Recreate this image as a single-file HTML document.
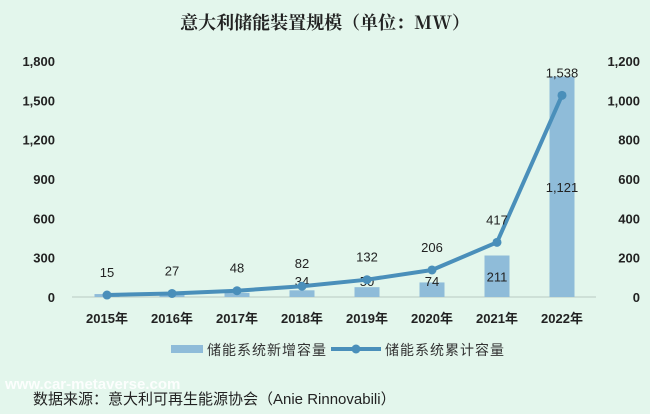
<!DOCTYPE html>
<html><head><meta charset="utf-8"><style>
body{margin:0;background:#e3f6ec;}
svg{display:block;font-family:"Liberation Sans","Noto Sans CJK SC",sans-serif;}
</style></head><body>
<svg width="650" height="414" viewBox="0 0 650 414">
<rect width="650" height="414" fill="#e3f6ec"/>
<text x="325" y="29" text-anchor="middle" font-size="18" font-weight="bold" fill="#222" font-family="'Noto Serif CJK SC','Noto Sans CJK SC',sans-serif">意大利储能装置规模（单位：MW）</text>
<g id="plot"></g>
<g>
<rect x="171" y="345" width="32" height="8" fill="#8fbcd9"/>
<text x="207" y="355" font-size="14" letter-spacing="1" fill="#333">储能系统新增容量</text>
<line x1="331" y1="349" x2="381" y2="349" stroke="#4a8fba" stroke-width="4"/>
<circle cx="356" cy="349" r="4.5" fill="#4a8fba"/>
<text x="385" y="355" font-size="14" letter-spacing="1" fill="#333">储能系统累计容量</text>
</g>
<text x="5" y="389" font-size="15" fill="#ffffff" font-weight="bold" opacity="0.9">www.car-metaverse.com</text>
<text x="33" y="404" font-size="15" fill="#222">数据来源：意大利可再生能源协会（Anie Rinnovabili）</text>
</svg>
<script>
const categories=["2015年","2016年","2017年","2018年","2019年","2020年","2021年","2022年"];
const newCapacity=[15,12,21,34,50,74,211,1121];
const newLabels=["","","","34","50","74","211","1,121"];
const cumCapacity=[15,27,48,82,132,206,417,1538];
const cumLabels=["15","27","48","82","132","206","417","1,538"];
const leftTicks=[0,300,600,900,1200,1500,1800];
const rightTicks=[0,200,400,600,800,1000,1200];
const NS="http://www.w3.org/2000/svg";
const g=document.getElementById('plot');
const y0=297,yTop=61;
const yL=v=>y0-(v/1800)*(y0-yTop);
const yR=v=>y0-(v/1200)*(y0-yTop);
const xC=i=>107+i*65;
const fmt=v=>v.toLocaleString('en-US');
function mk(tag,attrs,txt){const e=document.createElementNS(NS,tag);for(const k in attrs)e.setAttribute(k,attrs[k]);if(txt!==undefined)e.textContent=txt;g.appendChild(e);return e;}
leftTicks.forEach(v=>{const t=mk('text',{x:55,y:yL(v)+5,'text-anchor':'end','font-size':13,'font-weight':'bold',fill:'#222'},fmt(v));

});
rightTicks.forEach(v=>{const t=mk('text',{x:640,y:yR(v)+5,'text-anchor':'end','font-size':13,'font-weight':'bold',fill:'#222'},fmt(v));

});
const ax=mk('line',{x1:72,y1:y0,x2:596,y2:y0,stroke:'#c8d8d0','stroke-width':1.5});


categories.forEach((c,i)=>{
const b=mk('rect',{x:xC(i)-12.5,y:yR(newCapacity[i]),width:25,height:y0-yR(newCapacity[i]),fill:'#8fbcd9'});


const t=mk('text',{x:xC(i),y:323,'text-anchor':'middle','font-size':13,'font-weight':'bold',fill:'#222'},c);


});
categories.forEach((c,i)=>{if(!newLabels[i])return;
const mid=(yR(newCapacity[i])+y0)/2;const yy=Math.min(mid,y0-16)+5;
const t=mk('text',{x:xC(i),y:yy,'text-anchor':'middle','font-size':13,fill:'#222'},newLabels[i]);

});
const pts=cumCapacity.map((v,i)=>xC(i)+','+yL(v)).join(' ');
const pl=mk('polyline',{points:pts,fill:'none',stroke:'#4a8fba','stroke-width':4,'stroke-linejoin':'round'});


cumCapacity.forEach((v,i)=>{
const c=mk('circle',{cx:xC(i),cy:yL(v),r:4.5,fill:'#4a8fba'});


const t=mk('text',{x:xC(i),y:yL(v)-18,'text-anchor':'middle','font-size':13,fill:'#222'},cumLabels[i]);


});
</script>
</body></html>
